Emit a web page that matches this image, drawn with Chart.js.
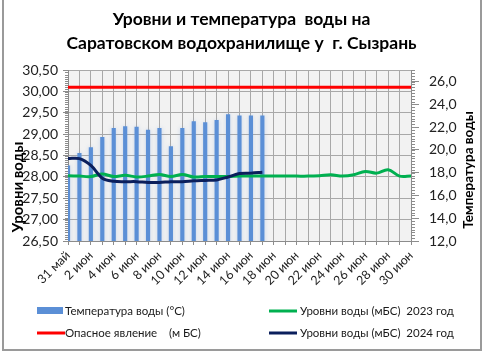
<!DOCTYPE html>
<html>
<head>
<meta charset="utf-8">
<script src="https://cdn.jsdelivr.net/npm/chart.js@4/dist/chart.umd.min.js"></script>
<style>
  html, body { margin: 0; padding: 0; background: #fff; }
</style>
</head>
<body>
<canvas id="levels" width="483" height="353"></canvas>
<script>
// dates on the x axis
const days = ['31 май', '1 июн', '2 июн', '3 июн', '4 июн', '5 июн', '6 июн', '7 июн', '8 июн', '9 июн',
  '10 июн', '11 июн', '12 июн', '13 июн', '14 июн', '15 июн', '16 июн', '17 июн', '18 июн', '19 июн',
  '20 июн', '21 июн', '22 июн', '23 июн', '24 июн', '25 июн', '26 июн', '27 июн', '28 июн', '29 июн', '30 июн'];

// water temperature, °C (right axis)
const temp = [18.6, 19.7, 20.2, 21.1, 21.9, 22.05, 22.0, 21.75, 21.9, 20.3, 21.9, 22.5, 22.4, 22.6, 23.1, 23.0, 23.0, 23.0];

// water levels, m BS (left axis)
const level2023 = [28.03, 28.02, 28.01, 28.07, 28.01, 28.04, 28.0, 28.02, 28.06, 28.01, 28.06, 28.0, 28.01, 28.01, 28.01, 28.02,
  28.02, 28.02, 28.02, 28.02, 28.02, 28.02, 28.03, 28.05, 28.02, 28.05, 28.13, 28.09, 28.17, 28.02, 28.02];
const level2024 = [28.43, 28.43, 28.27, 27.97, 27.9, 27.89, 27.89, 27.87, 27.87, 27.89, 27.89, 27.91, 27.92, 27.93, 28.0, 28.08, 28.09, 28.11];
const danger = [30.1, 30.1, 30.1, 30.1, 30.1, 30.1, 30.1, 30.1, 30.1, 30.1, 30.1, 30.1, 30.1, 30.1, 30.1, 30.1,
  30.1, 30.1, 30.1, 30.1, 30.1, 30.1, 30.1, 30.1, 30.1, 30.1, 30.1, 30.1, 30.1, 30.1, 30.1];

const tempTicks = [12, 14, 16, 18, 20, 22, 24, 26];

const FONT = 'Lato';
const GRID = '#a8a8a8';
const AXIS = '#8c8c8c';

const decor = {
  id: 'decor',
  beforeDraw(chart) {
    const { ctx, chartArea: a } = chart;
    ctx.save();
    ctx.fillStyle = '#fff';
    ctx.fillRect(0, 0, chart.width, chart.height);
    ctx.fillStyle = '#f2f2f2';
    ctx.fillRect(a.left, a.top, a.right - a.left, a.bottom - a.top);
    ctx.restore();
  },
  beforeDatasetDraw(chart, args) {
    if (args.index !== 3) return;
    const ctx = chart.ctx;
    ctx.save();
    ctx.shadowColor = 'rgba(120,160,220,0.35)';
    ctx.shadowBlur = 4;
  },
  afterDatasetDraw(chart, args) {
    if (args.index === 3) chart.ctx.restore();
  },
  afterDraw(chart) {
    const { ctx, chartArea: a } = chart;
    const y = chart.scales.y, y2 = chart.scales.y2;
    ctx.save();

    // minor ticks
    ctx.strokeStyle = AXIS;
    ctx.lineWidth = 1;
    ctx.beginPath();
    for (let v = 26.5; v <= 30.5001; v += 0.05) {
      const py = Math.round(y.getPixelForValue(v)) + 0.5;
      ctx.moveTo(a.left - 3, py);
      ctx.lineTo(a.left, py);
    }
    for (let v = 12; v <= 27.001; v += 0.25) {
      const py = Math.round(y2.getPixelForValue(v)) + 0.5;
      ctx.moveTo(a.right, py);
      ctx.lineTo(a.right + 4, py);
    }
    ctx.stroke();

    // axis titles
    ctx.fillStyle = '#000';
    ctx.textAlign = 'center';
    ctx.textBaseline = 'middle';
    ctx.font = 'bold 15px ' + FONT;
    ctx.save();
    ctx.translate(18, 187);
    ctx.rotate(-Math.PI / 2);
    ctx.fillText('Уровни воды', 0, 0);
    ctx.restore();
    ctx.font = 'bold 13.5px ' + FONT;
    ctx.save();
    ctx.translate(469, 170);
    ctx.rotate(-Math.PI / 2);
    ctx.fillText('Температура воды', 0, 0);
    ctx.restore();

    // legend
    ctx.textAlign = 'left';
    ctx.font = '11.5px ' + FONT;
    ctx.fillStyle = '#5b8fd6';
    ctx.fillRect(37, 307, 26, 7);
    const lines = [
      ['#00b050', 269, 311],
      ['#ff0000', 37, 333],
      ['#0b1f5c', 269, 333]
    ];
    ctx.lineWidth = 3;
    lines.forEach(([c, x, ly]) => {
      ctx.strokeStyle = c;
      ctx.beginPath();
      ctx.moveTo(x, ly);
      ctx.lineTo(x + 28, ly);
      ctx.stroke();
    });
    ctx.fillStyle = '#1a1a1a';
    ctx.fillText('Температура воды (°С)', 65, 311);
    ctx.fillText('Уровни воды (мБС)  2023 год', 300, 311);
    ctx.fillText('Опасное явление    (м БС)', 65, 333);
    ctx.fillText('Уровни воды (мБС)  2024 год', 300, 333);

    // outer frame
    ctx.strokeStyle = '#9a9a9a';
    ctx.lineWidth = 2;
    ctx.strokeRect(3, -5, 478, 355);
    ctx.restore();
  }
};

new Chart(document.getElementById('levels'), {
  data: {
    labels: days,
    datasets: [
      {
        type: 'line',
        label: 'Опасное явление    (м БС)',
        data: danger,
        borderColor: '#ff0000',
        borderWidth: 3,
        pointRadius: 0,
        yAxisID: 'y',
        order: 1
      },
      {
        type: 'line',
        label: 'Уровни воды (мБС)  2024 год',
        data: level2024,
        borderColor: '#0b1f5c',
        borderWidth: 3,
        pointRadius: 0,
        tension: 0.35,
        yAxisID: 'y',
        order: 2
      },
      {
        type: 'line',
        label: 'Уровни воды (мБС)  2023 год',
        data: level2023,
        borderColor: '#00b050',
        borderWidth: 3,
        pointRadius: 0,
        tension: 0.35,
        yAxisID: 'y',
        order: 3
      },
      {
        type: 'bar',
        label: 'Температура воды (°С)',
        data: temp,
        backgroundColor: '#5b8fd6',
        barThickness: 3.5,
        yAxisID: 'y2',
        order: 4
      }
    ]
  },
  options: {
    responsive: false,
    animation: false,
    layout: { padding: { left: 0, right: 0, top: 0, bottom: 67 } },
    plugins: {
      legend: { display: false },
      tooltip: { enabled: false },
      title: {
        display: true,
        text: ['Уровни и температура  воды на', 'Саратовском водохранилище у  г. Сызрань'],
        color: '#000',
        font: { family: FONT, size: 17.5, weight: 'bold', lineHeight: 1.35 },
        padding: { top: 8, bottom: 15 }
      }
    },
    scales: {
      x: {
        offset: false,
        grid: { offset: false, color: GRID, tickColor: AXIS, tickLength: 4 },
        border: { color: AXIS },
        ticks: {
          autoSkip: false,
          minRotation: 45,
          maxRotation: 45,
          padding: 3,
          color: '#222',
          font: { family: FONT, size: 12.5 },
          callback: (v, i) => (i % 2 === 0 ? days[i] : '')
        },
        afterFit: s => { s.height = 45; }
      },
      y: {
        position: 'left',
        min: 26.5,
        max: 30.5,
        grid: { color: GRID, tickColor: AXIS, tickLength: 5 },
        border: { color: AXIS },
        ticks: {
          stepSize: 0.5,
          padding: 5,
          color: '#222',
          font: { family: FONT, size: 14 },
          callback: v => v.toFixed(2).replace('.', ',')
        },
        afterFit: s => { s.width = 68; }
      },
      y2: {
        position: 'right',
        min: 12,
        max: 27,
        grid: { drawOnChartArea: false, tickColor: AXIS, tickLength: 8 },
        border: { color: AXIS },
        afterBuildTicks: s => { s.ticks = tempTicks.map(v => ({ value: v })); },
        ticks: {
          padding: 10,
          color: '#222',
          font: { family: FONT, size: 14 },
          callback: v => v.toFixed(1).replace('.', ',')
        },
        afterFit: s => { s.width = 72; }
      }
    }
  },
  plugins: [decor]
});
</script>
</body>
</html>
